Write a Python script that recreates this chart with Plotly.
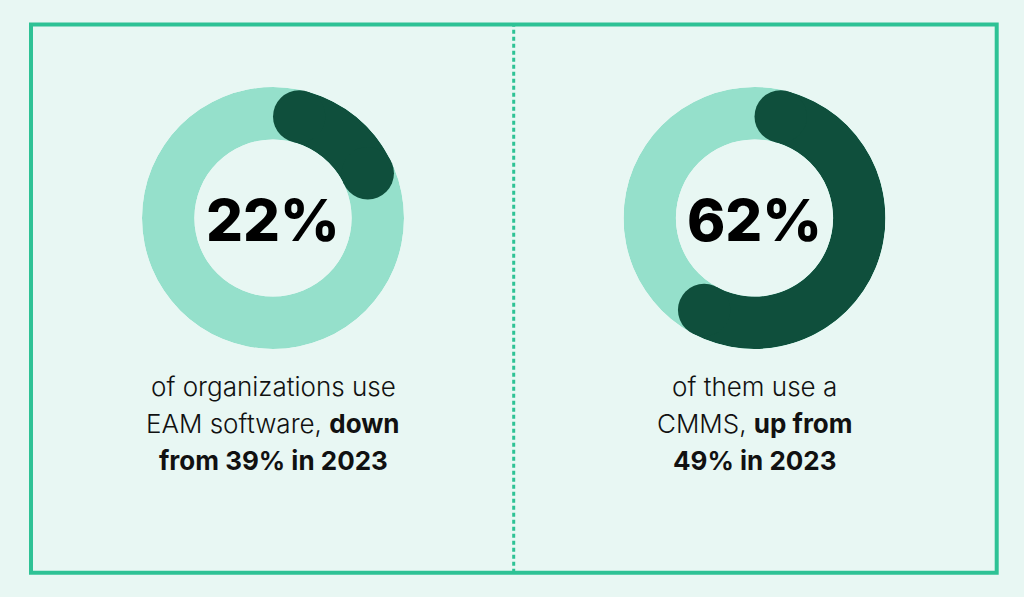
import numpy as np
import plotly.graph_objects as go

# ---- data ----
percent_values = [22, 62]
big_labels = ["22%", "62%"]
caption_lines = [
    ["of organizations use", "EAM software, <b>down</b>", "<b>from 39% in 2023</b>"],
    ["of them use a", "CMMS, <b>up from</b>", "<b>49% in 2023</b>"],
]

# ---- style ----
BG = "#E8F7F3"
FRAME = "#2EC295"
LIGHT = "#95E0CB"
DARK = "#0F4F3C"
W, H = 1024, 597
HOLE = 0.6
RADIUS_PX = 131
centers_px = [(273, 218), (754.5, 218)]
caption_baselines = [397, 434, 471]

fig = go.Figure()

# half-angle of a rounded cap (cap radius = half ring thickness, at ring midline)
cap_r = (1 - HOLE) / 2
mid_r = HOLE + cap_r
cap_half_deg = np.degrees(np.arcsin(cap_r / mid_r))
ring_px = (1 - HOLE) * RADIUS_PX

for i, (pct, (cx, cy)) in enumerate(zip(percent_values, centers_px)):
    pname = "polar" if i == 0 else f"polar{i+1}"
    sub = pname
    span = pct / 100 * 360
    start = cap_half_deg
    end = span - cap_half_deg
    # full light ring
    fig.add_trace(go.Barpolar(r=[1], theta=[180], width=[360], base=0,
                              marker=dict(color=LIGHT, line=dict(width=0)),
                              subplot=sub, hoverinfo="skip", showlegend=False))
    # dark arc core
    fig.add_trace(go.Barpolar(r=[1], theta=[(start + end) / 2], width=[end - start], base=0,
                              marker=dict(color=DARK, line=dict(width=0)),
                              subplot=sub, hoverinfo="skip", showlegend=False))
    # rounded caps
    fig.add_trace(go.Scatterpolar(r=[0.5, 0.5], theta=[start, end], mode="markers",
                                  marker=dict(color=DARK, size=ring_px, line=dict(width=0)),
                                  subplot=sub, hoverinfo="skip", showlegend=False))
    x0 = (cx - RADIUS_PX) / W
    x1 = (cx + RADIUS_PX) / W
    y0 = (H - cy - RADIUS_PX) / H
    y1 = (H - cy + RADIUS_PX) / H
    fig.layout[pname] = dict(
        domain=dict(x=[x0, x1], y=[y0, y1]),
        hole=HOLE,
        bgcolor="rgba(0,0,0,0)",
        radialaxis=dict(range=[0, 1], visible=False, showgrid=False),
        angularaxis=dict(rotation=90, direction="clockwise", visible=False, showgrid=False),
    )
    # center label
    fig.add_annotation(x=cx / W, y=1 - (cy + 2) / H, xref="paper", yref="paper",
                       text=big_labels[i], showarrow=False,
                       font=dict(family="Inter", size=58, color="#000000", weight=800),
                       xanchor="center", yanchor="middle")
    # caption lines
    for line, base in zip(caption_lines[i], caption_baselines):
        fig.add_annotation(x=cx / W, y=1 - base / H, xref="paper", yref="paper",
                           text=line, showarrow=False, align="center",
                           font=dict(family="Inter", size=26, color="#111111", weight=300),
                           xanchor="center", yanchor="bottom", yshift=-7)

# frame and divider
fig.add_shape(type="rect", xref="paper", yref="paper",
              x0=31 / W, x1=996.7 / W, y0=1 - 572.7 / H, y1=1 - 24.5 / H,
              line=dict(color=FRAME, width=4), fillcolor="rgba(0,0,0,0)")
fig.add_shape(type="line", xref="paper", yref="paper",
              x0=513.7 / W, x1=513.7 / W, y0=1 - 572.7 / H, y1=1 - 24.5 / H,
              line=dict(color=FRAME, width=3, dash="4px,3px"))

fig.update_layout(width=W, height=H, margin=dict(l=0, r=0, t=0, b=0),
                  paper_bgcolor=BG, plot_bgcolor=BG, showlegend=False)

fig.write_html("out.html")
